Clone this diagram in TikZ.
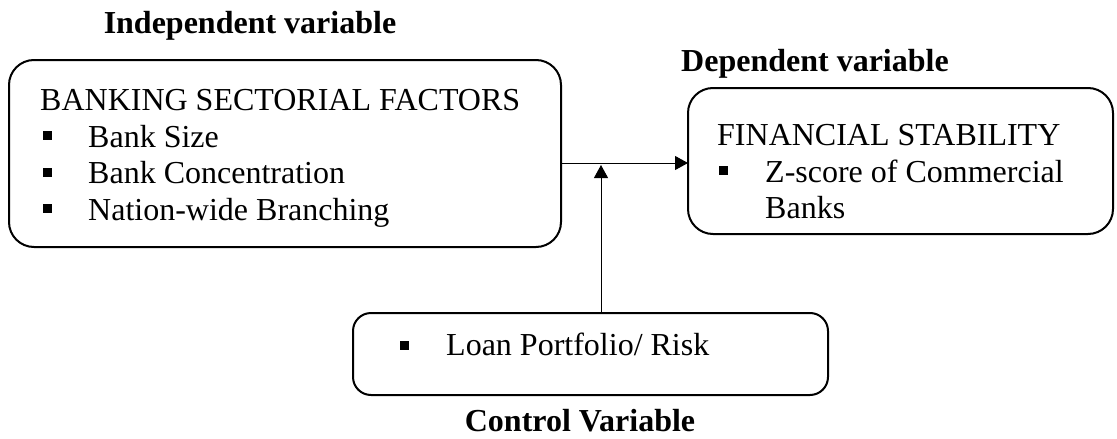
\documentclass[tikz,border=0pt]{standalone}
\usepackage{fontspec}
\setmainfont{Liberation Serif}
\usetikzlibrary{arrows.meta}
\begin{document}
\begin{tikzpicture}[x=1pt,y=-1pt,
  box/.style={draw,line width=2pt,rounded corners=25pt,inner sep=0pt,outer sep=0pt},
  txt/.style={anchor=base west,inner sep=0pt,font=\fontsize{32}{37}\selectfont},
  ttl/.style={anchor=base,inner sep=0pt,font=\fontsize{32}{37}\selectfont\bfseries},
  bul/.style={fill,inner sep=0pt,minimum size=9pt},
  arr/.style={line width=1pt,-{Triangle[length=13pt,width=14pt]}}]
\useasboundingbox (0,0) rectangle (1117,439);
% titles
\node[ttl] (tind) at (250,33) {Independent variable};
\node[ttl] (tdep) at (815,71) {Dependent variable};
\node[ttl] (tctl) at (580,431) {Control Variable};
% boxes
\node[box,minimum width=552pt,minimum height=187pt] (ind) at (285,153.5) {};
\node[box,minimum width=425pt,minimum height=146pt] (dep) at (900.5,161) {};
\node[box,rounded corners=18pt,minimum width=475pt,minimum height=82pt] (ctl) at (590.5,354) {};
% left box text
\node[txt] (l0) at (40,110) {BANKING SECTORIAL FACTORS};
\node[bul] (b1) at (47.5,135.5) {};
\node[txt] (l1) at (88,147) {Bank Size};
\node[bul] (b2) at (47.5,172) {};
\node[txt] (l2) at (88,183) {Bank Concentration};
\node[bul] (b3) at (47.5,208.5) {};
\node[txt] (l3) at (88,220) {Nation-wide Branching};
% right box text
\node[txt] (r0) at (717,145) {FINANCIAL STABILITY};
\node[bul] (rb1) at (723.5,170.5) {};
\node[txt] (r1) at (765,182) {Z-score of Commercial};
\node[txt] (r2) at (765,218) {Banks};
% bottom box text
\node[bul] (cb1) at (404,345) {};
\node[txt] (c1) at (446,355) {Loan Portfolio/ Risk};
% connectors
\coordinate (hs) at (ind.east |- 0,163);
\coordinate (he) at (dep.west |- 0,163);
\coordinate (vs) at (601,0 |- ctl.north);
\coordinate (ve) at (601,165);
\draw[arr] (hs) -- (he);
\draw[arr] (vs) -- (ve);
\end{tikzpicture}
\end{document}
